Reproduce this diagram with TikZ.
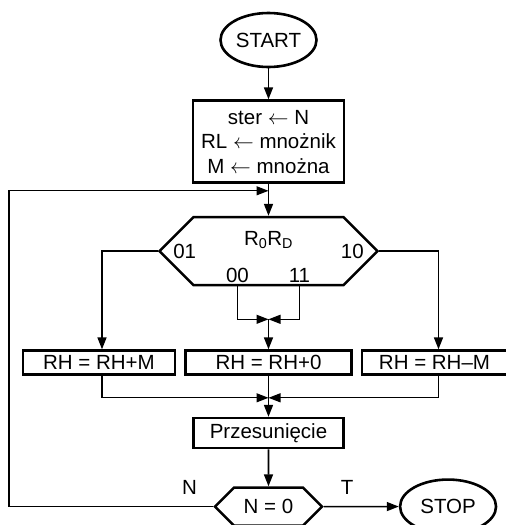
\documentclass[tikz,border=0pt]{standalone}
\usepackage{fontspec}
\setmainfont{Liberation Sans}
\usetikzlibrary{shapes.geometric,shapes.symbols,arrows.meta,positioning,calc}

\begin{document}
\begin{tikzpicture}[
  x=1pt,y=1pt,
  font=\fontsize{20.5}{24.5}\selectfont,
  term/.style={ellipse,draw,line width=2.6pt,minimum width=96pt,minimum height=54pt,inner sep=0pt},
  block/.style={rectangle,draw,line width=2.5pt,align=center,inner sep=0pt},
  hexa/.style={signal,signal to=west and east,draw,line width=2.5pt,inner sep=0pt},
  arrow/.style={-{Triangle[length=12pt,width=9pt]},line width=1.6pt},
  thin arrow/.style={-{Triangle[length=12pt,width=9pt]},line width=1.1pt}
]
\useasboundingbox (0,0) rectangle (506,-525);
\node[term] (start) at (268.5,-40) {START};
\node[block,below=31pt of start,minimum width=151pt,minimum height=82pt] (init) {ster $\leftarrow$ N\\RL $\leftarrow$ mnożnik\\M $\leftarrow$ mnożna};
\node[hexa,below=32pt of init,minimum width=218pt,minimum height=68pt] (dec) {};
\node (code) at ([yshift=11pt]dec.center) {R\textsubscript{0}R\textsubscript{D}};
\node[anchor=west] at ([xshift=12pt]dec.west) {01};
\node[anchor=east] at ([xshift=-12pt]dec.east) {10};
\coordinate (e00) at ([xshift=-31pt]dec.south);
\coordinate (e11) at ([xshift=31pt]dec.south);
\node[above] at (e00) {00};
\node[above] at (e11) {11};
\coordinate (m1) at ([yshift=-33pt]dec.south);
% operation row
\node[block,below=63pt of dec,minimum width=166pt,minimum height=24pt] (mid) {RH = RH+0};
\node[block,left=8pt of mid,minimum width=152pt,minimum height=24pt] (add) {RH = RH+M};
\node[block,right=8pt of mid,minimum width=145pt,minimum height=24pt] (sub) {RH = RH–M};
\coordinate (m2) at ([yshift=-22pt]mid.south);
\node[block,below=41pt of mid,minimum width=150pt,minimum height=30pt] (prz) {Przesunięcie};
\node[hexa,below=37pt of prz,minimum width=107pt,minimum height=38pt] (cond) {N = 0};
\node[term,right=75pt of cond] (stop) {STOP};
\node[anchor=south east,inner sep=0pt] at ([xshift=-16pt,yshift=12pt]cond.west) {N};
\node[anchor=south west,inner sep=0pt] at ([xshift=17pt,yshift=12pt]cond.east) {T};
% loop back
\coordinate (join) at ([yshift=-7pt]init.south);
\coordinate (corner) at ([xshift=-259.5pt]join);
\draw[arrow] (start) -- (init);
\draw[arrow] (init) -- (dec);
\draw[arrow] (dec.west) -| ([xshift=3pt]add.north);
\draw[arrow] (dec.east) -| ([xshift=4pt]sub.north);
\draw[thin arrow] (e00) |- (m1);
\draw[thin arrow] (e11) |- (m1);
\draw[arrow] (m1) -- (mid);
\draw[thin arrow] ([xshift=3pt]add.south) |- (m2);
\draw[thin arrow] ([xshift=4pt]sub.south) |- (m2);
\draw[arrow] (mid) -- (prz);
\draw[arrow] (prz) -- (cond);
\draw[arrow] (cond) -- (stop);
\draw[thin arrow] (cond.west) -| (corner) -- (join);
\end{tikzpicture}
\end{document}
